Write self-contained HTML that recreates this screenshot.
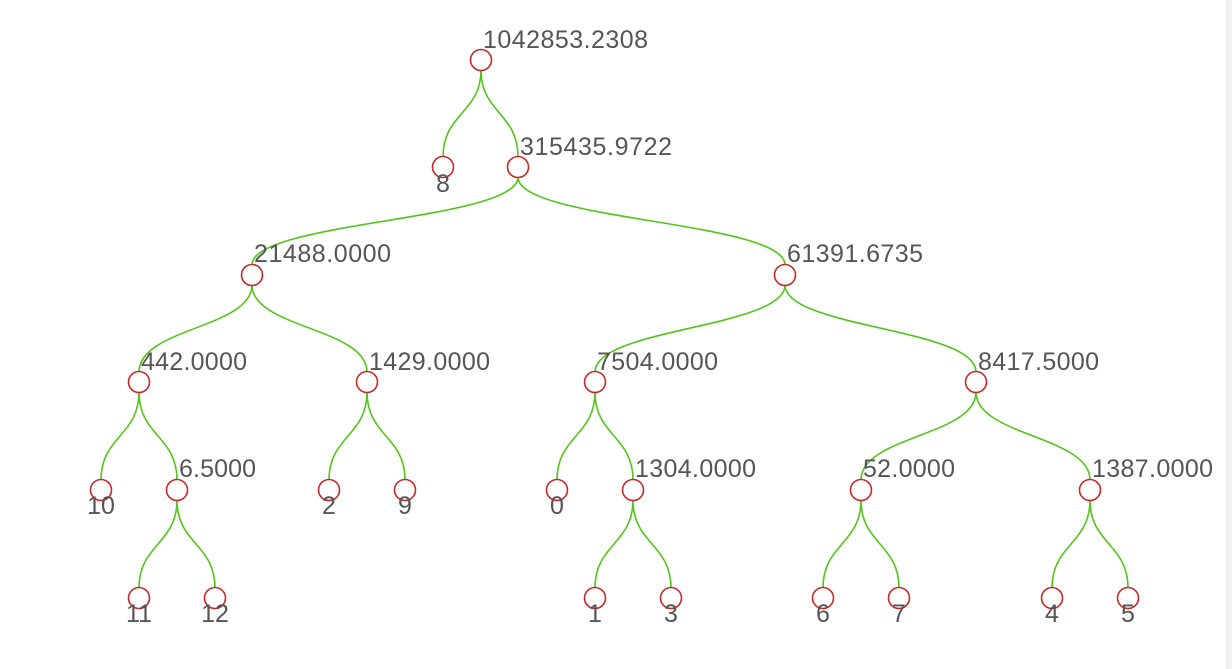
<!DOCTYPE html>
<html><head><meta charset="utf-8"><style>
html,body{margin:0;padding:0;background:#fff;width:1232px;height:669px;overflow:hidden}
text{font-family:"Liberation Sans","DejaVu Sans",sans-serif;font-size:25px;fill:#555}
</style></head><body>
<svg width="1232" height="669" viewBox="0 0 1232 669" xmlns="http://www.w3.org/2000/svg">
<rect x="1227" y="0" width="5" height="669" fill="#f3f3f3"/>
<line x1="1227" y1="0" x2="1227" y2="669" stroke="#e6e6e6"/>
<g fill="none" stroke="#52c41a" stroke-width="1.6">
<path d="M481,70 C481,113 443,113 443,157"/>
<path d="M481,70 C481,113 518,113 518,157"/>
<path d="M518,177 C518,221 252,221 252,265"/>
<path d="M518,177 C518,221 785,221 785,265"/>
<path d="M252,285 C252,328 139,328 139,372"/>
<path d="M252,285 C252,328 367,328 367,372"/>
<path d="M785,285 C785,328 595,328 595,372"/>
<path d="M785,285 C785,328 976,328 976,372"/>
<path d="M139,392 C139,436 101,436 101,480"/>
<path d="M139,392 C139,436 177,436 177,480"/>
<path d="M367,392 C367,436 329,436 329,480"/>
<path d="M367,392 C367,436 405,436 405,480"/>
<path d="M595,392 C595,436 557,436 557,480"/>
<path d="M595,392 C595,436 633,436 633,480"/>
<path d="M976,392 C976,436 861,436 861,480"/>
<path d="M976,392 C976,436 1090,436 1090,480"/>
<path d="M177,500 C177,544 139,544 139,588"/>
<path d="M177,500 C177,544 215,544 215,588"/>
<path d="M633,500 C633,544 595,544 595,588"/>
<path d="M633,500 C633,544 671,544 671,588"/>
<path d="M861,500 C861,544 823,544 823,588"/>
<path d="M861,500 C861,544 899,544 899,588"/>
<path d="M1090,500 C1090,544 1052,544 1052,588"/>
<path d="M1090,500 C1090,544 1128,544 1128,588"/>
</g>
<g fill="#fff" stroke="#c62828" stroke-width="1.6">
<circle cx="481" cy="60" r="10.5"/>
<circle cx="443" cy="167" r="10.5"/><circle cx="518" cy="167" r="10.5"/>
<circle cx="252" cy="275" r="10.5"/><circle cx="785" cy="275" r="10.5"/>
<circle cx="139" cy="382" r="10.5"/><circle cx="367" cy="382" r="10.5"/><circle cx="595" cy="382" r="10.5"/><circle cx="976" cy="382" r="10.5"/>
<circle cx="101" cy="490" r="10.5"/><circle cx="177" cy="490" r="10.5"/><circle cx="329" cy="490" r="10.5"/><circle cx="405" cy="490" r="10.5"/>
<circle cx="557" cy="490" r="10.5"/><circle cx="633" cy="490" r="10.5"/><circle cx="861" cy="490" r="10.5"/><circle cx="1090" cy="490" r="10.5"/>
<circle cx="139" cy="598" r="10.5"/><circle cx="215" cy="598" r="10.5"/><circle cx="595" cy="598" r="10.5"/><circle cx="671" cy="598" r="10.5"/>
<circle cx="823" cy="598" r="10.5"/><circle cx="899" cy="598" r="10.5"/><circle cx="1052" cy="598" r="10.5"/><circle cx="1128" cy="598" r="10.5"/>
</g>
<g>
<text x="483" y="48" textLength="165">1042853.2308</text>
<text x="520" y="155" textLength="152">315435.9722</text>
<text x="254" y="262" textLength="137">21488.0000</text>
<text x="787" y="262" textLength="136">61391.6735</text>
<text x="141" y="370" textLength="106">442.0000</text>
<text x="369" y="370" textLength="121">1429.0000</text>
<text x="597" y="370" textLength="121">7504.0000</text>
<text x="978" y="370" textLength="121">8417.5000</text>
<text x="179" y="477" textLength="77">6.5000</text>
<text x="635" y="477" textLength="121">1304.0000</text>
<text x="863" y="477" textLength="92">52.0000</text>
<text x="1092" y="477" textLength="121">1387.0000</text>
</g>
<g text-anchor="middle">
<text x="443" y="192">8</text>
<text x="101" y="514">10</text><text x="329" y="514">2</text><text x="405" y="514">9</text><text x="557" y="514">0</text>
<text x="139" y="622">11</text><text x="215" y="622">12</text><text x="595" y="622">1</text><text x="671" y="622">3</text>
<text x="823" y="622">6</text><text x="899" y="622">7</text><text x="1052" y="622">4</text><text x="1128" y="622">5</text>
</g>
</svg>
</body></html>
